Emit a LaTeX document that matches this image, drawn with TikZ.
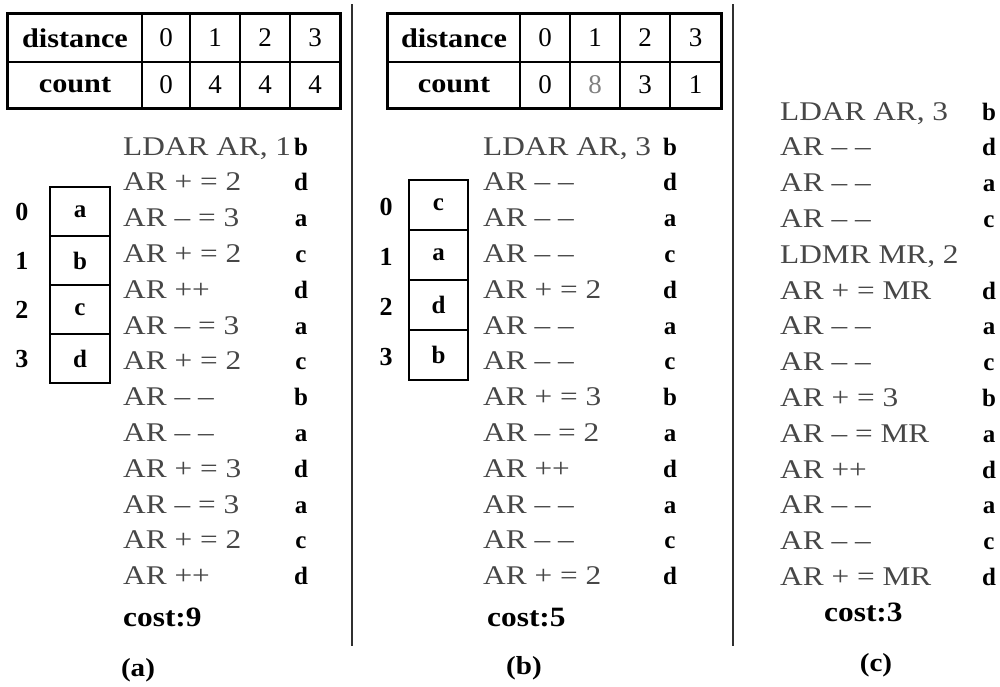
\documentclass[tikz,border=0pt]{standalone}
\usepackage{fontspec}
\setmainfont{Liberation Serif}
\usepackage{graphicx}
\newcommand{\hx}[1]{\scalebox{1.12}[1]{#1}}
\newcommand{\hy}[1]{\scalebox{1.16}[1]{#1}}
\newcommand{\dd}{\textendash}
\definecolor{ins}{HTML}{474747}
\definecolor{sepc}{HTML}{303030}
\begin{document}
\begin{tikzpicture}[x=1pt,y=-1pt,
  instr/.style={anchor=base west, inner sep=0pt, text=ins, font=\fontsize{27}{30}\selectfont},
  letter/.style={anchor=base, inner sep=0pt, font=\fontsize{25}{30}\selectfont\bfseries},
  boxcell/.style={draw, line width=1.3pt, minimum width=60pt, minimum height=49pt, inner sep=0pt, font=\fontsize{25}{30}\selectfont\bfseries},
  tcell/.style={draw, line width=1.3pt, inner sep=0pt, font=\fontsize{27}{30}\selectfont},
  idx/.style={inner sep=0pt, font=\fontsize{26}{30}\selectfont\bfseries},
  outer/.style={line width=3.5pt},
  sepline/.style={line width=2pt, sepc},
  costlbl/.style={anchor=base west, inner sep=0pt, font=\fontsize{28}{32}\selectfont\bfseries},
  panellbl/.style={anchor=base, inner sep=0pt, font=\fontsize{26}{30}\selectfont\bfseries}
]
\useasboundingbox (0,0) rectangle (1000,686);
\fill[white] (0,0) rectangle (1000,686);

% separators
\coordinate (s1t) at (352,4); \coordinate (s1b) at (352,646);
\coordinate (s2t) at (733,4); \coordinate (s2b) at (733,646);
\draw[sepline] (s1t) -- (s1b);
\draw[sepline] (s2t) -- (s2b);

% ---------- table (a)
\node[tcell, minimum width=134pt, minimum height=48pt] (tad) at (75,38) {\bfseries\hx{distance}};
\node[tcell, minimum width=134pt, minimum height=46pt] (tac) at (75,85) {\bfseries\hx{count}};
\foreach \xc/\w/\h/\c [count=\i from 0] in {166/48/0/0, 215/50/1/4, 265/50/2/4, 315/50/3/4}{
  \node[tcell, minimum width=\w pt, minimum height=48pt] (tad\i) at (\xc,38) {\h};
  \node[tcell, minimum width=\w pt, minimum height=46pt] (tac\i) at (\xc,85) {\c};
}
\draw[outer] (tad.north west) rectangle (tac3.south east);

% ---------- table (b)
\node[tcell, minimum width=132pt, minimum height=48pt] (tbd) at (454,38) {\bfseries\hx{distance}};
\node[tcell, minimum width=132pt, minimum height=46pt] (tbc) at (454,85) {\bfseries\hx{count}};
\foreach \xc/\w/\h/\c/\cc [count=\i from 0] in {545/50/0/0/black, 595/50/1/8/gray, 645/50/2/3/black, 695.5/51/3/1/black}{
  \node[tcell, minimum width=\w pt, minimum height=48pt] (tbd\i) at (\xc,38) {\h};
  \node[tcell, minimum width=\w pt, minimum height=46pt, text=\cc] (tbc\i) at (\xc,85) {\c};
}
\draw[outer] (tbd.north west) rectangle (tbc3.south east);

% ---------- address boxes (a)
\foreach \v/\n [count=\i from 0] in {a/0, b/1, c/2, d/3}{
  \node[boxcell] (ba\i) at (80,211.5+49*\i) {\v};
  \node[idx] (ia\i) at (22,212+49*\i) {\n};
}
% ---------- address boxes (b)
\foreach \v/\n [count=\i from 0] in {c/0, a/1, d/2, b/3}{
  \node[boxcell, minimum width=59pt, minimum height=50pt] (bb\i) at (438.5,205+50*\i) {\v};
  \node[idx] (ib\i) at (386,207+50*\i) {\n};
}

% ---------- instructions (a)
\foreach \t/\l [count=\i from 0] in {{LDAR AR, 1}/b, {AR + = 2}/d, {AR \dd\ = 3}/a, {AR + = 2}/c, {AR ++}/d, {AR \dd\ = 3}/a, {AR + = 2}/c, {AR \dd\ \dd}/b, {AR \dd\ \dd}/a, {AR + = 3}/d, {AR \dd\ = 3}/a, {AR + = 2}/c, {AR ++}/d}{
  \node[instr] (ai\i) at (123,155+35.8*\i) {\hy{\t}};
  \node[letter] (al\i) at (301,155+35.8*\i) {\l};
}
\node[costlbl] (acost) at (123,626) {\hx{cost:9}};
\node[panellbl] (alab) at (138,676) {\hx{(a)}};

% ---------- instructions (b)
\foreach \t/\l [count=\i from 0] in {{LDAR AR, 3}/b, {AR \dd\ \dd}/d, {AR \dd\ \dd}/a, {AR \dd\ \dd}/c, {AR + = 2}/d, {AR \dd\ \dd}/a, {AR \dd\ \dd}/c, {AR + = 3}/b, {AR \dd\ = 2}/a, {AR ++}/d, {AR \dd\ \dd}/a, {AR \dd\ \dd}/c, {AR + = 2}/d}{
  \node[instr] (bi\i) at (483,155+35.8*\i) {\hy{\t}};
  \node[letter] (bl\i) at (670,155+35.8*\i) {\l};
}
\node[costlbl] (bcost) at (487,626) {\hx{cost:5}};
\node[panellbl] (blab) at (524,674) {\hx{(b)}};

% ---------- instructions (c)
\foreach \t/\l [count=\i from 0] in {{LDAR AR, 3}/b, {AR \dd\ \dd}/d, {AR \dd\ \dd}/a, {AR \dd\ \dd}/c, {AR + = MR}/d, {AR \dd\ \dd}/a, {AR \dd\ \dd}/c, {AR + = 3}/b, {AR \dd\ = MR}/a, {AR ++}/d, {AR \dd\ \dd}/a, {AR \dd\ \dd}/c, {AR + = MR}/d}{
  \pgfmathsetmacro{\k}{\i<4 ? \i : \i+1}
  \node[instr] (ci\i) at (780,120+35.8*\k) {\hy{\t}};
  \node[letter] (cl\i) at (989,120+35.8*\k) {\l};
}
\node[instr] (cldmr) at (780,120+35.8*4) {\hy{LDMR MR, 2}};
\node[costlbl] (ccost) at (824,621) {\hx{cost:3}};
\node[panellbl] (clab) at (876,671) {\hx{(c)}};
\end{tikzpicture}
\end{document}
